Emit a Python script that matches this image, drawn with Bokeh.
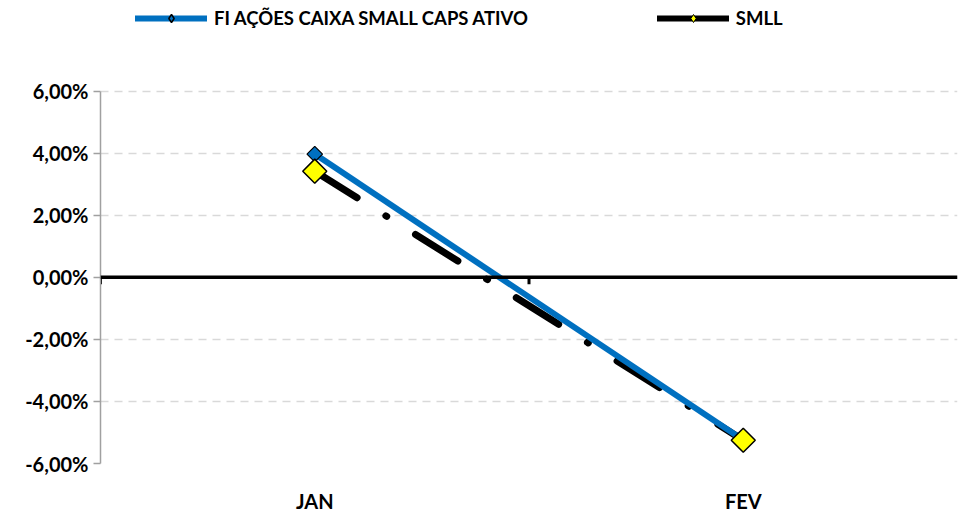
import numpy as np
from bokeh.plotting import figure
from bokeh.models import (Range1d, FixedTicker, CustomJSTickFormatter,
                          Legend, LegendItem, Span)
from bokeh.embed import file_html
from bokeh.resources import INLINE

categories = ["JAN", "FEV"]
fi_values = [3.97, -5.24]
smll_values = [3.42, -5.25]
y_ticks = [-6, -4, -2, 0, 2, 4, 6]
fi_name = "FI AÇÕES CAIXA SMALL CAPS ATIVO"
smll_name = "SMLL"

FONT = "Lato"
BLUE = "#0070C0"

W, H = 958, 515
B_LEFT, B_RIGHT, B_BOTTOM = 100, 1, 50
AXIS_TOP_PX = 91          # pixel row of the top tick (6,00%)
Y0, Y1 = y_ticks[0], y_ticks[-1]

frame_h = H - B_BOTTOM
px_per_unit = (frame_h - AXIS_TOP_PX) / (Y1 - Y0)
y_top = Y1 + AXIS_TOP_PX / px_per_unit   # frame extends up to hold the legend

x_pos = list(np.arange(len(categories)) + 0.5)
boundaries = list(np.arange(len(categories)).astype(float))

p = figure(width=W, height=H, output_backend="svg", toolbar_location=None,
           x_range=Range1d(0, len(categories)), y_range=Range1d(Y0, y_top),
           min_border_left=B_LEFT, min_border_right=B_RIGHT,
           min_border_top=0, min_border_bottom=B_BOTTOM,
           outline_line_color=None)

# grid
p.xgrid.visible = False
p.ygrid.ticker = FixedTicker(ticks=y_ticks)
p.ygrid.grid_line_color = "#D9D9D9"
p.ygrid.grid_line_width = 1.5
p.ygrid.grid_line_dash = "8 6"

# y axis
ya = p.yaxis[0]
ya.ticker = FixedTicker(ticks=y_ticks)
ya.bounds = (Y0, Y1)
ya.formatter = CustomJSTickFormatter(code="return tick.toFixed(2).replace('.', ',') + '%';")
ya.axis_line_color = "#A0A0A0"
ya.axis_line_width = 1.5
ya.major_tick_line_color = "#A0A0A0"
ya.major_tick_line_width = 1.5
ya.major_tick_out = 7
ya.major_tick_in = 0
ya.minor_tick_line_color = None
ya.major_label_text_font = FONT
ya.major_label_text_font_style = "bold"
ya.major_label_text_font_size = "20px"
ya.major_label_text_color = "black"
ya.major_label_standoff = 5

# category labels axis
xa = p.xaxis[0]
xa.ticker = FixedTicker(ticks=x_pos)
xa.major_label_overrides = {float(x): c for x, c in zip(x_pos, categories)}
xa.axis_line_color = None
xa.major_tick_line_color = None
xa.major_tick_out = 0
xa.major_tick_in = 0
xa.minor_tick_line_color = None
xa.major_label_text_font = FONT
xa.major_label_text_font_style = "bold"
xa.major_label_text_font_size = "20px"
xa.major_label_text_color = "black"
xa.major_label_standoff = 25

# zero line with category boundary ticks
tick_len = 7 / px_per_unit
p.segment(x0=boundaries, y0=[0.0] * len(boundaries), x1=boundaries,
          y1=[-tick_len] * len(boundaries), line_color="black", line_width=3)
p.add_layout(Span(location=0, dimension="width", line_color="black", line_width=3.5))

# series
p.line(x_pos, smll_values, line_color="black", line_width=7,
       line_dash="50 34 1 34", line_cap="round")
p.line(x_pos, fi_values, line_color=BLUE, line_width=6)
p.scatter(x_pos, fi_values, marker="square", angle=np.pi / 4, size=11,
          fill_color=BLUE, line_color="black", line_width=1.2)
p.scatter(x_pos, smll_values, marker="square", angle=np.pi / 4, size=17,
          fill_color="#FFFF00", line_color="black", line_width=1.5)

# legend-only renderers
nan = [float("nan")]
l1 = p.line(nan, nan, line_color=BLUE, line_width=6, line_cap="round")
m1 = p.scatter(nan, nan, marker="diamond", size=12,
               fill_color=BLUE, line_color="black", line_width=1.5)
l2 = p.line(nan, nan, line_color="black", line_width=6, line_cap="round")
m2 = p.scatter(nan, nan, marker="diamond", size=12,
               fill_color="#FFFF00", line_color="black", line_width=1)

legend = Legend(items=[LegendItem(label=fi_name, renderers=[l1, m1]),
                       LegendItem(label=smll_name, renderers=[l2, m2])],
                orientation="horizontal", location=(35, frame_h - 31),
                glyph_width=72, glyph_height=20, label_standoff=7, spacing=129,
                padding=0, margin=0, border_line_color=None, background_fill_alpha=0,
                label_text_font=FONT, label_text_font_style="bold",
                label_text_font_size="18.5px", label_text_color="black")
p.add_layout(legend, "center")

open("out.html", "w").write(file_html(p, INLINE))
